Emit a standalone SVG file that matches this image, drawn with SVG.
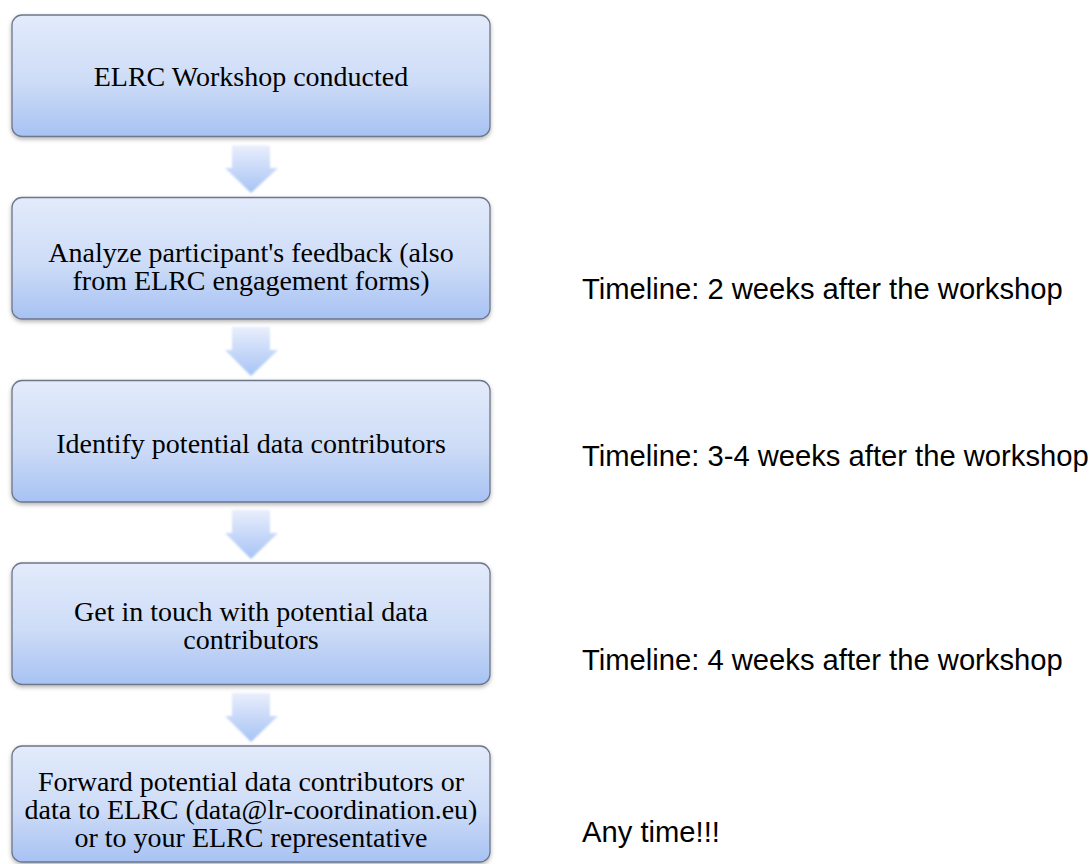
<svg xmlns="http://www.w3.org/2000/svg" width="1091" height="864" viewBox="0 0 1091 864">
  <defs>
    <linearGradient id="boxFill" x1="0" y1="0" x2="0" y2="1">
      <stop offset="0" stop-color="#e3ebfb"/>
      <stop offset="0.55" stop-color="#cddcf7"/>
      <stop offset="1" stop-color="#a7c2f3"/>
    </linearGradient>
    <linearGradient id="arrowFill" x1="0" y1="0" x2="0" y2="1">
      <stop offset="0" stop-color="#e9eefb"/>
      <stop offset="1" stop-color="#a6c3f6"/>
    </linearGradient>
    <filter id="shadow" x="-5%" y="-10%" width="110%" height="125%">
      <feDropShadow dx="0" dy="2" stdDeviation="2" flood-color="#000" flood-opacity="0.3"/>
    </filter>
    <filter id="soft" x="-20%" y="-20%" width="140%" height="140%">
      <feGaussianBlur stdDeviation="0.9"/>
    </filter>
  </defs>
  <style>
    .box { fill: url(#boxFill); stroke: #6e7689; stroke-width: 1.3; filter: url(#shadow); }
    .label { font-family: "Liberation Serif", "Times New Roman", serif; font-size: 28px; fill: #000; text-anchor: middle; }
    .note { font-family: "Liberation Sans", Arial, sans-serif; font-size: 29.2px; fill: #000; }
    .arrow { fill: url(#arrowFill); filter: url(#soft); }
  </style>
  <rect width="1091" height="864" fill="#fff"/>

  <!-- flow connectors -->
  <g id="connectors">
    <path class="arrow" d="M232,145.5 H270 V168 H278 L251,193 L225,168 H232 Z"/>
    <path class="arrow" d="M232,327 H270 V350 H278 L251,376 L225,350 H232 Z"/>
    <path class="arrow" d="M232,510 H270 V533 H278 L251,559 L225,533 H232 Z"/>
    <path class="arrow" d="M232,693 H270 V716 H278 L251,742 L225,716 H232 Z"/>
  </g>

  <g id="step-workshop">
    <rect class="box" x="12" y="15" width="478" height="121.5" rx="10"/>
    <text class="label" x="251" y="86">ELRC Workshop conducted</text>
  </g>

  <g id="step-analyze">
    <rect class="box" x="12" y="197.5" width="478" height="121.5" rx="10"/>
    <text class="label" x="251" y="262">Analyze participant's feedback (also</text>
    <text class="label" x="251" y="290">from ELRC engagement forms)</text>
  </g>

  <g id="step-identify">
    <rect class="box" x="12" y="380.5" width="478" height="121.5" rx="10"/>
    <text class="label" x="251" y="453">Identify potential data contributors</text>
  </g>

  <g id="step-contact">
    <rect class="box" x="12" y="563" width="478" height="121.5" rx="10"/>
    <text class="label" x="251" y="621">Get in touch with potential data</text>
    <text class="label" x="251" y="649">contributors</text>
  </g>

  <g id="step-forward">
    <rect class="box" x="12" y="746" width="478" height="116" rx="10"/>
    <text class="label" x="251" y="791">Forward potential data contributors or</text>
    <text class="label" x="251" y="819">data to ELRC (data@lr-coordination.eu)</text>
    <text class="label" x="251" y="847">or to your ELRC representative</text>
  </g>

  <g id="timelines">
    <text class="note" x="582" y="299">Timeline: 2 weeks after the workshop</text>
    <text class="note" x="582" y="466">Timeline: 3-4 weeks after the workshop</text>
    <text class="note" x="582" y="670">Timeline: 4 weeks after the workshop</text>
    <text class="note" x="582" y="842">Any time!!!</text>
  </g>
</svg>
